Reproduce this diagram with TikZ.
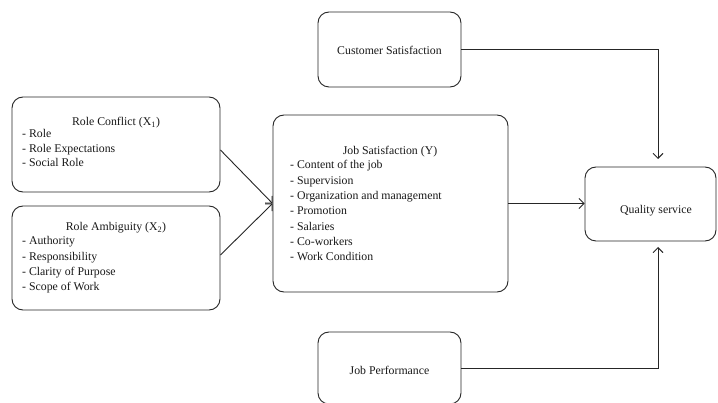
\documentclass[tikz,border=0pt]{standalone}
\usepackage{fontspec}
\setmainfont{Liberation Serif}
\usetikzlibrary{arrows.meta}
\begin{document}
\begin{tikzpicture}[x=1pt,y=-1pt,
 box/.style={draw=black!85,line width=0.9pt,rounded corners=11pt,inner sep=0pt},
 lbl/.style={font=\fontsize{11.8}{13}\selectfont,inner sep=0pt,text=black!90},
 arr/.style={draw=black!85,line width=0.9pt,-{Straight Barb[length=5pt,width=10pt]}}]
\clip (0,0) rectangle (718,403);
\fill[white] (0,0) rectangle (718,403);
% boxes
\node[box,minimum width=208pt,minimum height=95pt] (rc) at (116,144.5) {};
\node[box,minimum width=208pt,minimum height=104pt] (ra) at (116,258) {};
\node[box,minimum width=235pt,minimum height=177pt] (js) at (390.5,203.5) {};
\node[box,minimum width=143pt,minimum height=75pt] (cs) at (389.5,49.5) {};
\node[box,minimum width=143pt,minimum height=72pt] (jp) at (389.5,368) {};
\node[box,minimum width=131pt,minimum height=74pt] (qs) at (650.5,204) {};
% texts
\node[lbl,anchor=base] (rct) at (116,126) {Role Conflict (X\textsubscript{1})};
\foreach \t [count=\i from 0] in {- Role,- Role Expectations,- Social Role}
  \node[lbl,anchor=base west] (rci\i) at (22,138+14.5*\i) {\t};
\node[lbl,anchor=base] (rat) at (116,231) {Role Ambiguity (X\textsubscript{2})};
\foreach \t [count=\i from 0] in {- Authority,- Responsibility,- Clarity of Purpose,- Scope of Work}
  \node[lbl,anchor=base west] (rai\i) at (22,245+15.3*\i) {\t};
\node[lbl,anchor=base] (jst) at (390,155) {Job Satisfaction (Y)};
\foreach \t [count=\i from 0] in {- Content of the job,- Supervision,- Organization and management,- Promotion,- Salaries,- Co-workers,- Work Condition}
  \node[lbl,anchor=base west] (jsi\i) at (290,169+15.3*\i) {\t};
\node[lbl] (cst) at (389.5,50) {Customer Satisfaction};
\node[lbl] (jpt) at (389.5,370) {Job Performance};
\node[lbl] (qst) at (656,211) {Quality service};
% connectors
\coordinate (qtop) at (658,159);
\coordinate (qbot) at (658,247);
\draw[arr] ([yshift=-5.5pt]rc.east) -- (js.west);
\draw[arr] ([yshift=3pt]ra.east) -- (js.west);
\draw[arr] (js.east) -- (js.east -| qs.west);
\draw[arr] (cs.east) -| (qtop);
\draw[arr] (jp.east) -| (qbot);
\end{tikzpicture}
\end{document}
